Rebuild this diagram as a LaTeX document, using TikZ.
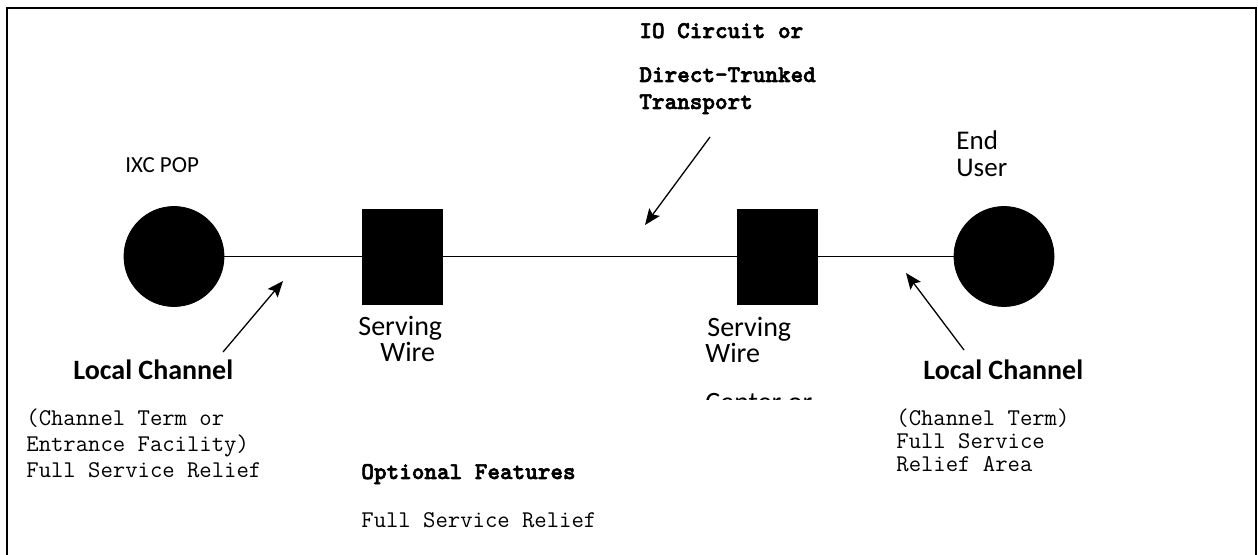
\documentclass[tikz,border=0pt]{standalone}
\usepackage{fontspec}
\setmainfont{Carlito}
\newfontfamily\ttbf[FakeBold=2.5]{lmmonolt10-bold.otf}
\usetikzlibrary{arrows.meta}
\begin{document}
\begin{tikzpicture}[x=0.5pt,y=-0.5pt,
  site/.style={circle,fill=black,draw=black,minimum size=50pt,inner sep=0pt},
  office/.style={rectangle,fill=black,draw=black,minimum width=40pt,minimum height=47.5pt,inner sep=0pt},
  wire/.style={line width=0.7pt},
  pointer/.style={line width=0.65pt,-{Stealth[length=8pt,width=6.5pt,inset=1.5pt]}},
  lbl/.style={anchor=base west,inner sep=0pt,font=\fontsize{14}{16}\selectfont},
  bigbold/.style={anchor=base west,inner sep=0pt,font=\fontsize{14}{16}\selectfont\bfseries},
  mono/.style={anchor=base west,inner sep=0pt,font=\ttfamily\fontsize{12}{13}\selectfont},
  monob/.style={anchor=base west,inner sep=0pt,font=\ttbf\fontsize{12}{13}\selectfont}]
\useasboundingbox[fill=white] (0,0) rectangle (1258,555);
% frame
\draw[line width=1pt] (7,570) -- (7,8) -- (1256,8) -- (1256,570);

% sites and offices
\node[site] (ixc) at (174,256.5) {};
\node[office] (sw1) at (402,256.5) {};
\node[office] (sw2) at (777,256.5) {};
\node[site] (eu) at (1004,256.5) {};
\draw[wire] (ixc) -- (sw1) (sw1) -- (sw2) (sw2) -- (eu);

% labels
\node[lbl,font=\fontsize{11.5}{13}\selectfont] (ixct) at (125,173) {IXC POP};
\node[lbl,font=\fontsize{13.5}{15}\selectfont] (end1) at (956,150) {End};
\node[lbl,font=\fontsize{13.5}{15}\selectfont] (end2) at (956,177) {User};

\node[lbl] (s1a) at (358,336) {Serving};
\node[lbl] (s1b) at (380,362) {Wire};
\node[lbl] (s2a) at (707,337) {Serving};
\node[lbl] (s2b) at (705,363) {Wire};
\begin{scope}
  \clip (690,380) rectangle (840,399.5);
  \node[lbl] (s2c) at (705,412) {Center or};
\end{scope}

\node[bigbold] (lcl) at (73,380) {Local Channel};
\node[bigbold] (lcr) at (923,380) {Local Channel};

\node[monob] (io1) at (639,38) {IO Circuit or};
\node[monob] (io2) at (639,82) {Direct-Trunked};
\node[monob] (io3) at (639,109) {Transport};

\node[mono] (l1) at (26,426) {(Channel Term or};
\node[mono] (l2) at (26,451.5) {Entrance Facility)};
\node[mono] (l3) at (26,477) {Full Service Relief};

\node[mono] (r1) at (896,426) {(Channel Term)};
\node[mono] (r2) at (896,448.5) {Full Service};
\node[mono] (r3) at (896,471.5) {Relief Area};

\node[monob] (of1) at (361,479) {Optional Features};
\node[mono] (of2) at (361,527) {Full Service Relief};

% pointers
\coordinate (pl0) at (223,352);
\coordinate (pl1) at (283,281);
\coordinate (pt0) at (710,137);
\coordinate (pt1) at (645,225);
\coordinate (pr0) at (964,350);
\coordinate (pr1) at (906,273);
\draw[pointer] (pl0) -- (pl1);
\draw[pointer] (pt0) -- (pt1);
\draw[pointer] (pr0) -- (pr1);
\end{tikzpicture}
\end{document}
